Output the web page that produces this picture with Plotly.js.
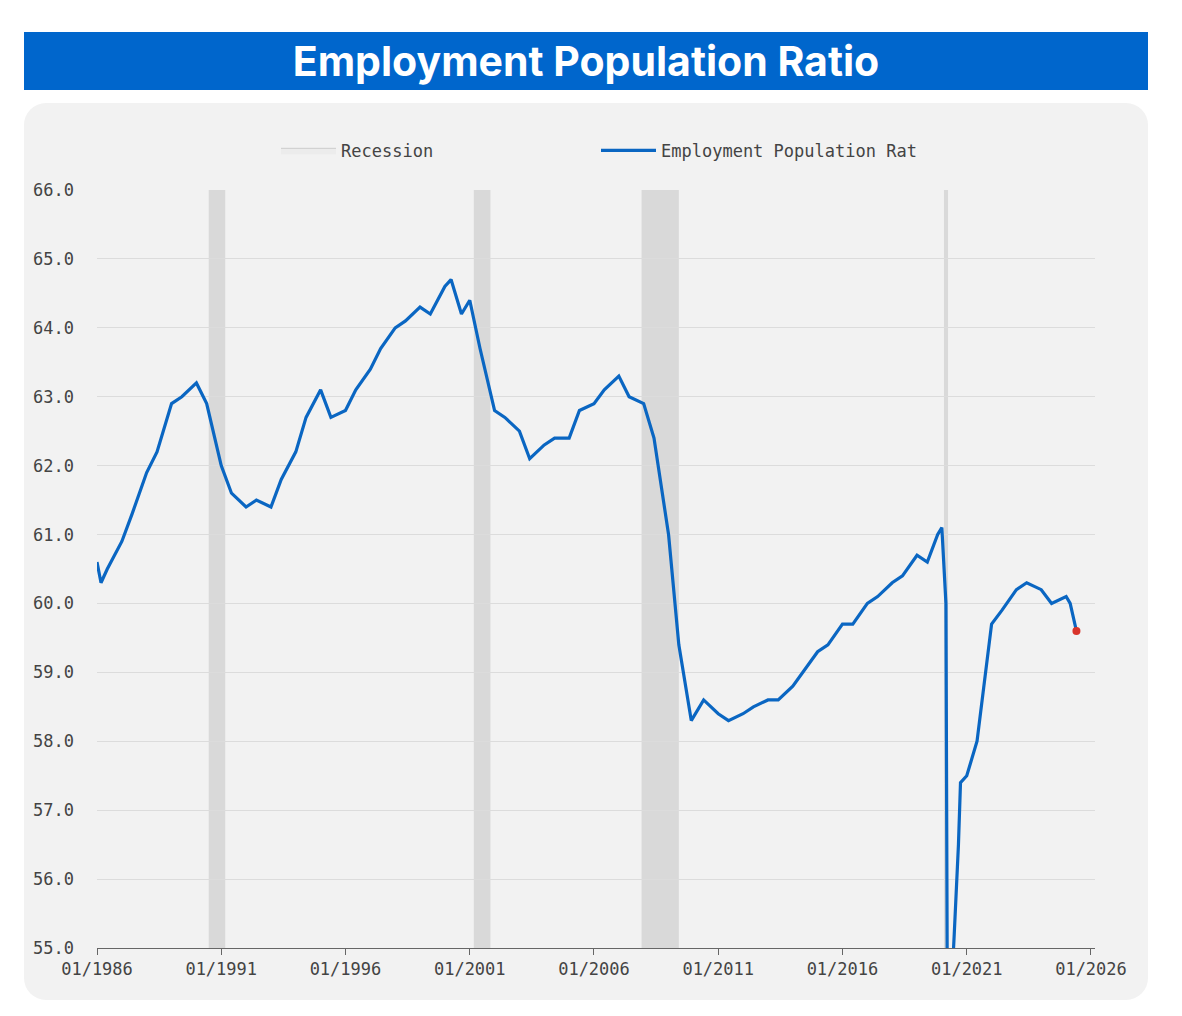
<!DOCTYPE html>
<html>
<head>
<meta charset="utf-8">
<script src="https://cdn.plot.ly/plotly-3.0.1.min.js"></script>
<style>
  body { margin: 0; background: #fff; width: 1182px; height: 1016px; position: relative; overflow: hidden; }
  #bar { position: absolute; left: 24px; top: 32px; width: 1124px; height: 58px; background: #0066cc;
         color: #fff; font: bold 41px Inter, "Open Sans", sans-serif; text-align: center; line-height: 58px; }
  #panel { position: absolute; left: 24px; top: 103px; width: 1124px; height: 897px; background: #f2f2f2; border-radius: 22px; }
  #chart { position: absolute; left: 0; top: 0; width: 1182px; height: 1016px; }
</style>
</head>
<body>
<div id="bar">Employment Population Ratio</div>
<div id="panel"></div>
<div id="chart"></div>
<script>
// monthly points
const dates = ["1986-01","1986-03","1986-06","1987-01","1987-06","1988-01","1988-06","1989-01","1989-06","1990-01","1990-06",
  "1991-01","1991-06","1992-01","1992-06","1993-01","1993-06","1994-01","1994-06","1995-01","1995-06","1996-01","1996-06",
  "1997-01","1997-06","1998-01","1998-06","1999-01","1999-06","2000-01","2000-04","2000-09","2001-01","2001-06","2002-01",
  "2002-06","2003-01","2003-06","2004-01","2004-06","2005-01","2005-06","2006-01","2006-06","2007-01","2007-06","2008-01",
  "2008-06","2009-01","2009-06","2009-12","2010-06","2011-01","2011-06","2012-01","2012-06","2013-01","2013-06","2014-01",
  "2014-06","2015-01","2015-06","2016-01","2016-06","2017-01","2017-06","2018-01","2018-06","2019-01","2019-06","2019-11",
  "2020-01","2020-03","2020-04","2020-05","2020-06","2020-07","2020-09","2020-10","2021-01","2021-06","2022-01","2022-06",
  "2023-01","2023-06","2024-01","2024-06","2025-01","2025-03","2025-05","2025-06"];
const ratio = [60.6,60.3,60.5,60.9,61.3,61.9,62.2,62.9,63.0,63.2,62.9,
  62.0,61.6,61.4,61.5,61.4,61.8,62.2,62.7,63.1,62.7,62.8,63.1,
  63.4,63.7,64.0,64.1,64.3,64.2,64.6,64.7,64.2,64.4,63.7,62.8,
  62.7,62.5,62.1,62.3,62.4,62.4,62.8,62.9,63.1,63.3,63.0,62.9,
  62.4,61.0,59.4,58.3,58.6,58.4,58.3,58.4,58.5,58.6,58.6,58.8,
  59.0,59.3,59.4,59.7,59.7,60.0,60.1,60.3,60.4,60.7,60.6,61.0,
  61.1,60.0,51.3,52.8,54.6,55.2,56.5,57.4,57.5,58.0,59.7,59.9,
  60.2,60.3,60.2,60.0,60.1,60.0,59.7,59.6];
const recStart = ["1990-07","2001-03","2007-12","2020-02"];
const recEnd = ["1991-03","2001-11","2009-06","2020-04"];

const shapes = recStart.map((s, i) => ({
  type: 'rect', xref: 'x', yref: 'paper', x0: s, x1: recEnd[i], y0: 0, y1: 1,
  fillcolor: '#d9d9d9', line: {width: 0}, layer: 'below'
}));

const mono = {family: 'DejaVu Sans Mono, monospace', size: 17, color: '#444'};

const data = [
  {x: [null], y: [null], type: 'scatter', mode: 'lines', fill: 'toself', name: 'Recession',
   fillcolor: '#ececec', line: {color: '#cccccc', width: 1}},
  {x: dates, y: ratio, type: 'scatter', mode: 'lines', name: 'Employment Population Ratio',
   line: {color: '#0a66c2', width: 3.2}},
  {x: [dates[dates.length - 1]], y: [ratio[ratio.length - 1]], type: 'scatter', mode: 'markers',
   showlegend: false, marker: {color: '#d9342b', size: 8}}
];

const layout = {
  width: 1182, height: 1016,
  margin: {l: 97, r: 87, t: 190, b: 68},
  paper_bgcolor: 'rgba(0,0,0,0)', plot_bgcolor: 'rgba(0,0,0,0)',
  font: mono,
  showlegend: true,
  legend: {orientation: 'h', x: 0.5, xanchor: 'center', y: 1.028, yanchor: 'bottom', font: mono,
           entrywidth: 250, itemwidth: 55},
  xaxis: {type: 'date', range: ['1986-01-01', '2026-03-01'], tick0: '1986-01-01', dtick: 'M60',
          tickformat: '%m/%Y', showgrid: false, showline: true, linecolor: '#666', ticks: 'outside',
          tickcolor: '#666', ticklen: 6, zeroline: false},
  yaxis: {range: [55, 66], dtick: 1, tickformat: '.1f', gridcolor: '#dcdcdc', zeroline: false,
          ticks: '', ticklabelstandoff: 22},
  shapes: shapes
};

Plotly.newPlot('chart', data, layout, {displayModeBar: false});
</script>
</body>
</html>
